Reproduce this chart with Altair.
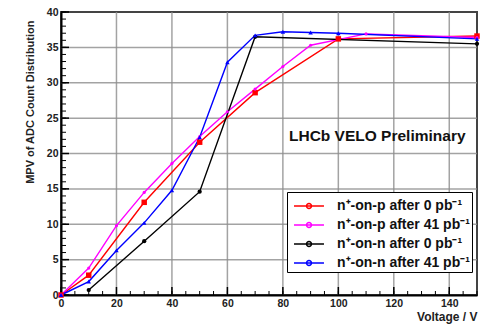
import altair as alt
import pandas as pd

# ---- data ----
series_names = ["n⁺-on-p after 0 pb⁻¹", "n⁺-on-p after 41 pb⁻¹",
                "n⁺-on-n after 0 pb⁻¹", "n⁺-on-n after 41 pb⁻¹"]
series_colors = ["#ff0000", "#ff00ff", "#000000", "#0000ff"]
series_shapes = ["square", "circle", "circle", "triangle-up"]
series_sizes = [30, 10, 18, 20]

volt_p0 = [0, 10, 30, 50, 70, 100, 150]
mpv_p0 = [0, 2.8, 13.1, 21.6, 28.6, 36.2, 36.6]

volt_p41 = [0, 10, 20, 30, 40, 50, 60, 70, 80, 90, 110, 150]
mpv_p41 = [0, 3.8, 9.8, 14.5, 18.6, 22.4, 25.9, 29.1, 32.3, 35.3, 36.9, 36.4]

volt_n0 = [10, 30, 50, 70, 150]
mpv_n0 = [0.7, 7.6, 14.6, 36.5, 35.5]

volt_n41 = [0, 10, 20, 30, 40, 50, 60, 70, 80, 90, 100, 150]
mpv_n41 = [0, 1.9, 6.3, 10.2, 14.8, 22.3, 32.9, 36.7, 37.2, 37.1, 37.0, 36.2]

x_major = [0, 20, 40, 60, 80, 100, 120, 140]
x_minor = list(range(0, 151, 5))
y_major = [0, 5, 10, 15, 20, 25, 30, 35, 40]
y_minor = list(range(0, 41, 1))
x_grid = [20, 40, 60, 80, 100, 120, 140]
y_grid = [5, 10, 15, 20, 25, 30, 35]

FONT = "Liberation Sans"
W, H = 416, 283

rows = []
for name, xs, ys in zip(series_names,
                        [volt_p0, volt_p41, volt_n0, volt_n41],
                        [mpv_p0, mpv_p41, mpv_n0, mpv_n41]):
    for i, (a, b) in enumerate(zip(xs, ys)):
        rows.append({"series": name, "V": a, "MPV": b, "order": i})
df = pd.DataFrame(rows)

xscale = alt.Scale(domain=[0, 150], nice=False, zero=False)
yscale = alt.Scale(domain=[0, 40], nice=False, zero=False)
color_scale = alt.Scale(domain=series_names, range=series_colors)

xax = alt.Axis(values=x_major, title="Voltage / V", grid=False, tickSize=0,
               labelPadding=3, labelFont=FONT, labelFontSize=10.5,
               labelFontWeight="bold", labelColor="#222", domainColor="#000",
               domainWidth=2, titleFont=FONT, titleFontSize=12,
               titleFontWeight="bold", titleAnchor="end", titleAlign="right",
               titleX=W, titleY=21, titleBaseline="middle", titleColor="#222",
               labelFlush=False)
yax = alt.Axis(values=y_major, title="MPV of ADC Count Distribution", grid=False,
               tickSize=0, labelPadding=3, labelFont=FONT, labelFontSize=10.5,
               labelFontWeight="bold", labelColor="#222", domainColor="#000",
               domainWidth=2, titleFont=FONT, titleFontSize=11,
               titleFontWeight="bold", titleAngle=-90, titleAlign="right",
               titleBaseline="middle", titleX=-31, titleY=8, titleColor="#222",
               labelFlush=False)

legend = alt.Legend(title=None, orient="none", legendX=226, legendY=180,
                    padding=2, fillColor="white", strokeColor="#000",
                    symbolType="M-1.34,0H1.34M0.22,0A0.22,0.22,0,1,1,-0.22,0A0.22,0.22,0,1,1,0.22,0",
                    symbolSize=500, symbolStrokeWidth=1.5, symbolOffset=8,
                    labelOffset=16, labelFont=FONT, labelFontSize=14,
                    labelFontWeight="bold", labelColor="#111", rowPadding=0,
                    labelLimit=300)

# grid drawn from the tick lists (thicker solid grey so it is visible)
xgrid = alt.Chart(pd.DataFrame({"gx": x_grid})).mark_rule(
    color="#8c8c8c", strokeWidth=1.5, opacity=0.8).encode(
    x=alt.X("gx:Q", scale=xscale, axis=xax))
ygrid = alt.Chart(pd.DataFrame({"gy": y_grid})).mark_rule(
    color="#8c8c8c", strokeWidth=1.5, opacity=0.8).encode(
    y=alt.Y("gy:Q", scale=yscale, axis=yax))

# inward ticks
xmaj = alt.Chart(pd.DataFrame({"t": x_major})).mark_rule(color="#000", strokeWidth=1.5).encode(
    x=alt.X("t:Q", scale=xscale, axis=xax), y=alt.value(H), y2=alt.value(H - 8))
xmin = alt.Chart(pd.DataFrame({"t": x_minor})).mark_rule(color="#000", strokeWidth=1).encode(
    x=alt.X("t:Q", scale=xscale, axis=xax), y=alt.value(H), y2=alt.value(H - 4))
ymaj = alt.Chart(pd.DataFrame({"t": y_major})).mark_rule(color="#000", strokeWidth=1.5).encode(
    y=alt.Y("t:Q", scale=yscale, axis=yax), x=alt.value(0), x2=alt.value(8))
ymin = alt.Chart(pd.DataFrame({"t": y_minor})).mark_rule(color="#000", strokeWidth=1).encode(
    y=alt.Y("t:Q", scale=yscale, axis=yax), x=alt.value(0), x2=alt.value(5))

lines = alt.Chart(df).mark_line(strokeWidth=1.4).encode(
    x=alt.X("V:Q", scale=xscale, axis=xax),
    y=alt.Y("MPV:Q", scale=yscale, axis=yax),
    color=alt.Color("series:N", scale=color_scale, legend=legend),
    order="order:Q",
    detail="series:N",
)

point_layers = []
for name, col, shp, sz in zip(series_names, series_colors, series_shapes, series_sizes):
    point_layers.append(
        alt.Chart(df[df["series"] == name]).mark_point(
            filled=True, opacity=1, shape=shp, size=sz, color=col).encode(
            x=alt.X("V:Q", scale=xscale, axis=xax),
            y=alt.Y("MPV:Q", scale=yscale, axis=yax),
        )
    )

label = alt.Chart(pd.DataFrame({"txt": ["LHCb VELO Preliminary"]})).mark_text(
    font=FONT, fontSize=15.5, fontWeight="bold", color="#111", align="left",
    baseline="alphabetic").encode(
    x=alt.datum(82.2, scale=xscale, axis=xax),
    y=alt.datum(21.7, scale=yscale, axis=yax), text="txt:N")

chart = alt.layer(xgrid, ygrid, xmin, xmaj, ymin, ymaj, lines, *point_layers, label).properties(
    width=W, height=H, autosize=alt.AutoSizeParams(type="none"),
    padding={"left": 61, "top": 12, "right": 4, "bottom": 29},
    background="white",
).configure_view(stroke="#444", strokeWidth=2)

chart.save("out.html", embed_options={"renderer": "svg", "actions": False})
